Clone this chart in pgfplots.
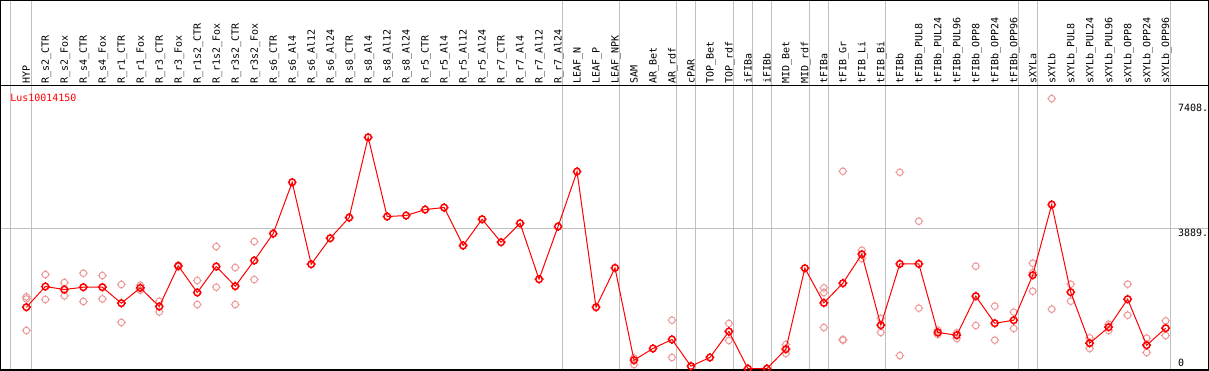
\documentclass[border=0pt]{standalone}
\usepackage{pgfplots}
\pgfplotsset{compat=1.18}
\usepackage{fontspec}
\setmonofont{DejaVu Sans Mono}
\definecolor{rep}{RGB}{236,150,150}
\definecolor{sep}{RGB}{192,192,192}
\tikzset{
  lbl/.style={font=\ttfamily\fontsize{5}{6}\selectfont, rotate=90, anchor=west, inner sep=0pt, text height=3.6pt, text depth=0pt},
  rlbl/.style={font=\ttfamily\fontsize{5}{6}\selectfont, anchor=north west, inner sep=0pt, text height=3.6pt, text depth=0pt},
}
\pgfdeclareplotmark{tcirc}{%
  \pgfpathcircle{\pgfpointorigin}{\pgfplotmarksize}%
  \pgfpathmoveto{\pgfpoint{0pt}{\pgfplotmarksize}}\pgfpathlineto{\pgfpoint{0pt}{1.35\pgfplotmarksize}}%
  \pgfpathmoveto{\pgfpoint{0pt}{-\pgfplotmarksize}}\pgfpathlineto{\pgfpoint{0pt}{-1.35\pgfplotmarksize}}%
  \pgfpathmoveto{\pgfpoint{\pgfplotmarksize}{0pt}}\pgfpathlineto{\pgfpoint{1.35\pgfplotmarksize}{0pt}}%
  \pgfpathmoveto{\pgfpoint{-\pgfplotmarksize}{0pt}}\pgfpathlineto{\pgfpoint{-1.35\pgfplotmarksize}{0pt}}%
  \pgfusepathqstroke}
\pgfplotstableread{
x y
0 1702
1 2275
2 2192
3 2256
4 2256
5 1813
6 2237
7 1722
8 2846
9 2109
10 2829
11 2284
12 2995
13 3742
14 5162
15 2893
16 3612
17 4185
18 6408
19 4213
20 4241
21 4407
22 4462
23 3410
24 4138
25 3502
26 4027
27 2477
28 3936
29 5459
30 1702
31 2790
32 235
33 559
34 808
35 69
36 310
37 1030
38 0
39 0
40 540
41 2782
42 1821
43 2367
44 3169
45 1204
46 2901
47 2901
48 1002
49 927
50 2007
51 1259
52 1342
53 2588
54 4545
55 2118
56 706
57 1149
58 1924
59 650
60 1121
}\meantable
\pgfplotstableread{
x y
0 1987
0 1932
0 1057
1 2607
1 1915
2 2386
2 2015
3 2643
3 1860
4 2580
4 1932
5 2331
5 1279
6 2311
6 2173
7 1868
7 1572
8 2865
8 2818
9 2441
9 1777
10 3382
10 2256
11 2801
11 1777
12 3521
12 2469
32 299
32 116
34 1342
34 310
37 1251
37 781
40 670
40 421
42 2237
42 2109
42 1140
43 5467
43 808
43 789
44 3280
44 3050
45 1390
45 1002
46 5439
46 365
47 4083
47 1675
48 1066
48 947
49 991
49 836
50 2837
50 1196
51 1730
51 789
52 1564
52 1113
53 2920
53 2663
53 2145
54 7479
54 1647
55 2339
55 1868
56 853
56 559
57 1232
57 1057
58 2339
58 1481
59 844
59 448
60 1323
60 919
}\reptable
\begin{document}
\begin{tikzpicture}
\begin{axis}[
  scale only axis,
  width=604.5pt, height=185pt,
  xmin=-1.368, xmax=62.263,
  ymin=-41.5, ymax=10199,
  scaled y ticks=false, scaled x ticks=false,
  axis line style={black, line width=0.7pt},
  xtick={-0.826,0.25,28.25,31.25,34.25,35.25,37.25,38.25,39.25,41.25,42.25,45.25,52.25,53.25,60.25},
  xticklabels={},
  ytick={3889}, yticklabels={},
  tick label style={inner sep=0pt},
  major tick length=0pt,
  xmajorgrids, ymajorgrids,
  grid style={sep, line width=0.5pt},
  extra y ticks={7838}, extra y tick labels={},
  extra y tick style={grid=major, major grid style={black, line width=0.6pt}},
  clip marker paths=true,
]
\addplot[only marks, mark=tcirc, mark size=1.65pt, color=rep, mark options={line width=0.5pt}] table[x=x, y=y] {\reptable};
\addplot[red, line width=0.5pt, mark=tcirc, mark size=1.65pt, mark options={line width=0.75pt}] table[x=x, y=y] {\meantable};
\node[lbl] at (axis cs:0,7888) {HYP};
\node[lbl] at (axis cs:1,7888) {R\_s2\_CTR};
\node[lbl] at (axis cs:2,7888) {R\_s2\_Fox};
\node[lbl] at (axis cs:3,7888) {R\_s4\_CTR};
\node[lbl] at (axis cs:4,7888) {R\_s4\_Fox};
\node[lbl] at (axis cs:5,7888) {R\_r1\_CTR};
\node[lbl] at (axis cs:6,7888) {R\_r1\_Fox};
\node[lbl] at (axis cs:7,7888) {R\_r3\_CTR};
\node[lbl] at (axis cs:8,7888) {R\_r3\_Fox};
\node[lbl] at (axis cs:9,7888) {R\_r1s2\_CTR};
\node[lbl] at (axis cs:10,7888) {R\_r1s2\_Fox};
\node[lbl] at (axis cs:11,7888) {R\_r3s2\_CTR};
\node[lbl] at (axis cs:12,7888) {R\_r3s2\_Fox};
\node[lbl] at (axis cs:13,7888) {R\_s6\_CTR};
\node[lbl] at (axis cs:14,7888) {R\_s6\_Al4};
\node[lbl] at (axis cs:15,7888) {R\_s6\_Al12};
\node[lbl] at (axis cs:16,7888) {R\_s6\_Al24};
\node[lbl] at (axis cs:17,7888) {R\_s8\_CTR};
\node[lbl] at (axis cs:18,7888) {R\_s8\_Al4};
\node[lbl] at (axis cs:19,7888) {R\_s8\_Al12};
\node[lbl] at (axis cs:20,7888) {R\_s8\_Al24};
\node[lbl] at (axis cs:21,7888) {R\_r5\_CTR};
\node[lbl] at (axis cs:22,7888) {R\_r5\_Al4};
\node[lbl] at (axis cs:23,7888) {R\_r5\_Al12};
\node[lbl] at (axis cs:24,7888) {R\_r5\_Al24};
\node[lbl] at (axis cs:25,7888) {R\_r7\_CTR};
\node[lbl] at (axis cs:26,7888) {R\_r7\_Al4};
\node[lbl] at (axis cs:27,7888) {R\_r7\_Al12};
\node[lbl] at (axis cs:28,7888) {R\_r7\_Al24};
\node[lbl] at (axis cs:29,7888) {LEAF\_N};
\node[lbl] at (axis cs:30,7888) {LEAF\_P};
\node[lbl] at (axis cs:31,7888) {LEAF\_NPK};
\node[lbl] at (axis cs:32,7888) {SAM};
\node[lbl] at (axis cs:33,7888) {AR\_Bet};
\node[lbl] at (axis cs:34,7888) {AR\_rdf};
\node[lbl] at (axis cs:35,7888) {cPAR};
\node[lbl] at (axis cs:36,7888) {TOP\_Bet};
\node[lbl] at (axis cs:37,7888) {TOP\_rdf};
\node[lbl] at (axis cs:38,7888) {iFIBa};
\node[lbl] at (axis cs:39,7888) {iFIBb};
\node[lbl] at (axis cs:40,7888) {MID\_Bet};
\node[lbl] at (axis cs:41,7888) {MID\_rdf};
\node[lbl] at (axis cs:42,7888) {tFIBa};
\node[lbl] at (axis cs:43,7888) {tFIB\_Gr};
\node[lbl] at (axis cs:44,7888) {tFIB\_Li};
\node[lbl] at (axis cs:45,7888) {tFIB\_Bi};
\node[lbl] at (axis cs:46,7888) {tFIBb};
\node[lbl] at (axis cs:47,7888) {tFIBb\_PUL8};
\node[lbl] at (axis cs:48,7888) {tFIBb\_PUL24};
\node[lbl] at (axis cs:49,7888) {tFIBb\_PUL96};
\node[lbl] at (axis cs:50,7888) {tFIBb\_OPP8};
\node[lbl] at (axis cs:51,7888) {tFIBb\_OPP24};
\node[lbl] at (axis cs:52,7888) {tFIBb\_OPP96};
\node[lbl] at (axis cs:53,7888) {sXYLa};
\node[lbl] at (axis cs:54,7888) {sXYLb};
\node[lbl] at (axis cs:55,7888) {sXYLb\_PUL8};
\node[lbl] at (axis cs:56,7888) {sXYLb\_PUL24};
\node[lbl] at (axis cs:57,7888) {sXYLb\_PUL96};
\node[lbl] at (axis cs:58,7888) {sXYLb\_OPP8};
\node[lbl] at (axis cs:59,7888) {sXYLb\_OPP24};
\node[lbl] at (axis cs:60,7888) {sXYLb\_OPP96};
\node[font=\ttfamily\fontsize{5}{6}\selectfont, anchor=west, inner sep=0pt, text height=3.6pt, text depth=0pt, text=red] at (axis cs:-0.868,7506) {Lus10014150};
\node[rlbl] at (axis cs:60.63,7321) {7408.};
\node[rlbl] at (axis cs:60.63,3875) {3889.};
\node[rlbl] at (axis cs:60.63,263) {0};
\end{axis}
\pgfresetboundingbox
\useasboundingbox ([shift={(-0.2pt,-0.2pt)}]current axis.south west) rectangle ([shift={(0.2pt,0.2pt)}]current axis.north east);
\end{tikzpicture}
\end{document}
